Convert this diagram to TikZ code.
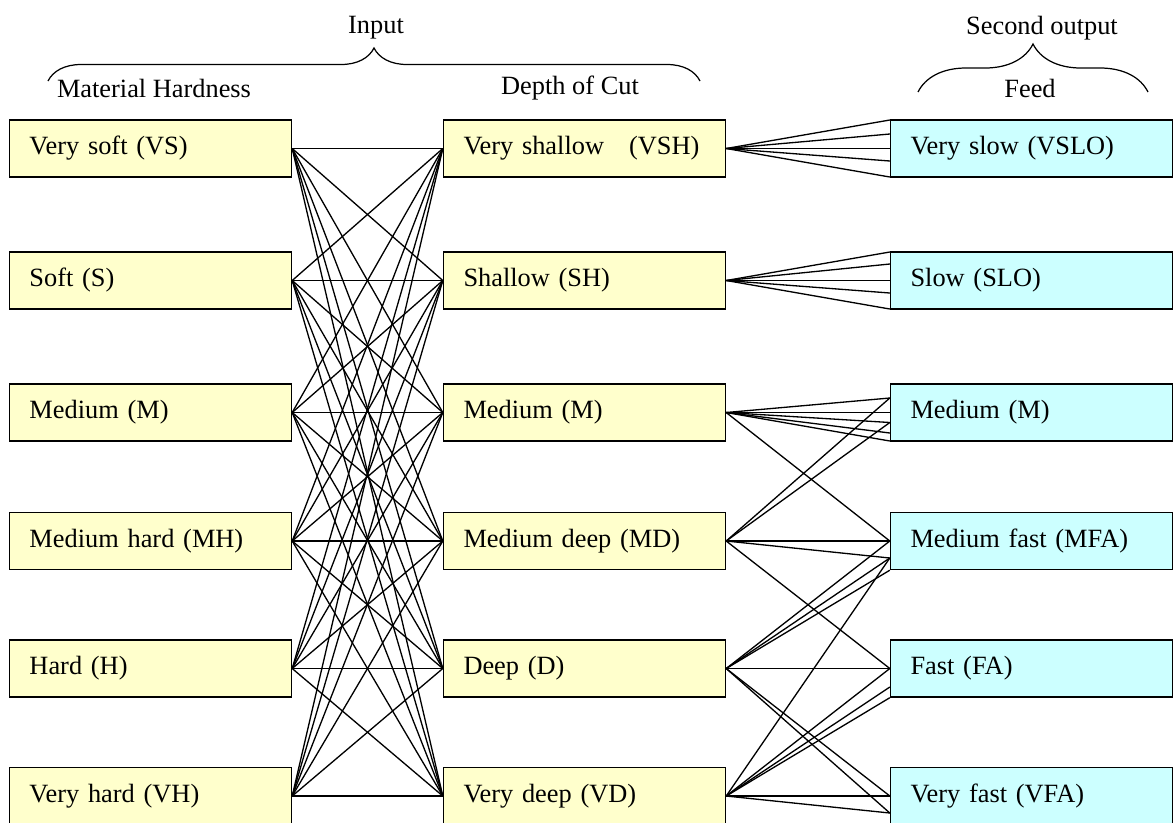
\documentclass[tikz,border=0pt]{standalone}
\usepackage{fontspec}
\setmainfont{Liberation Serif}
\usetikzlibrary{decorations.pathreplacing}

\definecolor{hardyellow}{HTML}{FFFFCC}
\definecolor{feedcyan}{HTML}{CCFFFF}

\tikzset{
    levelbox/.style={draw, line width=0.8pt, rectangle, minimum width=5.64cm, minimum height=1.14cm,
        inner xsep=0.4cm, text width=4.84cm, align=left},
    inbox/.style={levelbox, fill=hardyellow},
    outbox/.style={levelbox, fill=feedcyan},
    link/.style={line width=0.75pt},
    header/.style={inner sep=0pt},
}

\begin{document}
\begin{tikzpicture}[font=\fontsize{15}{18}\selectfont]
    \useasboundingbox (0,0) rectangle (23.48,-16.44);

    % headings and braces
    \node[header] (input) at (7.52,-0.56) {Input};
    \node[header] (second) at (20.84,-0.56) {Second output};
    \node[header] (hardness) at (3.08,-1.76) {Material Hardness};
    \node[header] (depth) at (11.4,-1.76) {Depth of Cut};
    \node[header] (feed) at (20.6,-1.76) {Feed};
    \draw[line width=0.7pt, decorate, decoration={brace, amplitude=0.66cm}] (0.96,-1.62) -- (14.0,-1.62);
    \draw[line width=0.7pt, decorate, decoration={brace, amplitude=0.96cm}] (18.36,-1.84) -- (22.96,-1.84);

    % material hardness
    \node[inbox] (vs) at (3.01,-2.97) {Very soft (VS)};
    \node[inbox] (s) at (3.01,-5.61) {Soft (S)};
    \node[inbox] (m) at (3.01,-8.25) {Medium (M)};
    \node[inbox] (mh) at (3.01,-10.82) {Medium hard (MH)};
    \node[inbox] (h) at (3.01,-13.37) {Hard (H)};
    \node[inbox] (vh) at (3.01,-15.92) {Very hard (VH)};

    % depth of cut
    \node[inbox] (vsh) at (11.69,-2.97) {Very shallow\hspace{0.5cm}(VSH)};
    \node[inbox] (sh) at (11.69,-5.61) {Shallow (SH)};
    \node[inbox] (dm) at (11.69,-8.25) {Medium (M)};
    \node[inbox] (md) at (11.69,-10.82) {Medium deep (MD)};
    \node[inbox] (d) at (11.69,-13.37) {Deep (D)};
    \node[inbox] (vd) at (11.69,-15.92) {Very deep (VD)};

    % feed
    \node[outbox] (vslo) at (20.63,-2.97) {Very slow (VSLO)};
    \node[outbox] (slo) at (20.63,-5.61) {Slow (SLO)};
    \node[outbox] (fm) at (20.63,-8.25) {Medium (M)};
    \node[outbox] (mfa) at (20.63,-10.82) {Medium fast (MFA)};
    \node[outbox] (fa) at (20.63,-13.37) {Fast (FA)};
    \node[outbox] (vfa) at (20.63,-15.92) {Very fast (VFA)};

    % every hardness with every depth
    \foreach \a in {vs,s,m,mh,h,vh}
        \foreach \b in {vsh,sh,dm,md,d,vd}
            \draw[link] (\a.east) -- (\b.west);

    % depth to feed
    \foreach \o in {0.57,0.29,0,-0.25,-0.57}
        \draw[link] (vsh.east) -- ([yshift=\o cm]vslo.west);
    \foreach \o in {0.57,0.33,0,-0.25,-0.57}
        \draw[link] (sh.east) -- ([yshift=\o cm]slo.west);
    \foreach \o in {0.29,0,-0.2,-0.41,-0.57}
        \draw[link] (dm.east) -- ([yshift=\o cm]fm.west);
    \draw[link] (dm.east) -- (mfa.west);
    \draw[link] (md.east) -- ([yshift=0.29cm]fm.west);
    \draw[link] (md.east) -- ([yshift=-0.2cm]fm.west);
    \draw[link] (md.east) -- (mfa.west);
    \draw[link] (md.east) -- ([yshift=-0.34cm]mfa.west);
    \draw[link] (md.east) -- (fa.west);
    \draw[link] (d.east) -- (mfa.west);
    \draw[link] (d.east) -- ([yshift=-0.34cm]mfa.west);
    \draw[link] (d.east) -- (mfa.south west);
    \draw[link] (d.east) -- (fa.west);
    \draw[link] (d.east) -- (vfa.west);
    \draw[link] (d.east) -- ([yshift=-0.34cm]vfa.west);
    \draw[link] (vd.east) -- ([yshift=-0.34cm]mfa.west);
    \draw[link] (vd.east) -- (fa.west);
    \draw[link] (vd.east) -- ([yshift=-0.37cm]fa.west);
    \draw[link] (vd.east) -- (fa.south west);
    \draw[link] (vd.east) -- (vfa.west);
    \draw[link] (vd.east) -- ([yshift=-0.34cm]vfa.west);
\end{tikzpicture}
\end{document}
